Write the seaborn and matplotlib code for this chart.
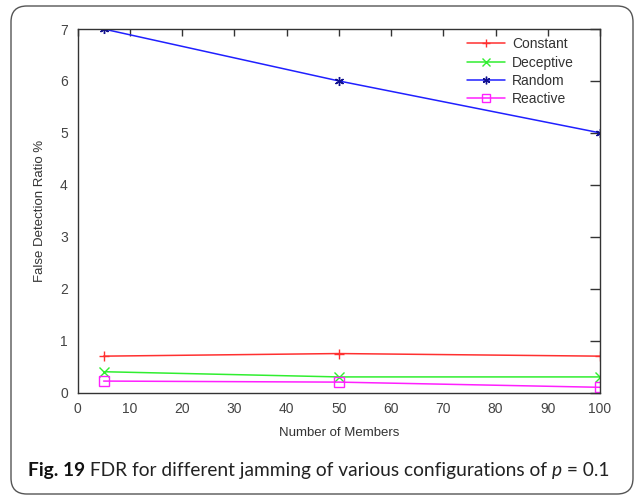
import numpy as np
import pandas as pd
import matplotlib
matplotlib.use("Agg")
import matplotlib.pyplot as plt
import seaborn as sns
from matplotlib.patches import FancyBboxPatch
from matplotlib.lines import Line2D

members = [5, 50, 100]
constant = [0.7, 0.75, 0.7]
deceptive = [0.4, 0.3, 0.3]
random_ = [7.0, 6.0, 5.0]
reactive = [0.22, 0.2, 0.1]
series_names = ["Constant", "Deceptive", "Random", "Reactive"]
x_ticks = [0, 10, 20, 30, 40, 50, 60, 70, 80, 90, 100]
y_ticks = [0, 1, 2, 3, 4, 5, 6, 7]

series_values = {"Constant": constant, "Deceptive": deceptive,
                 "Random": random_, "Reactive": reactive}

sns.set_style("white")
plt.rcParams["font.family"] = ["Liberation Sans", "DejaVu Sans"]

W, H = 635, 495
fig = plt.figure(figsize=(W / 100, H / 100), dpi=100)
fig.patch.set_facecolor("white")

# rounded frame
frame = FancyBboxPatch((11 / W, 1 - 494 / H), (633 - 11) / W, (494 - 6) / H,
                       boxstyle="round,pad=0,rounding_size=0.025",
                       transform=fig.transFigure, facecolor="none",
                       edgecolor="#555555", linewidth=1.0, mutation_aspect=W / H)
fig.add_artist(frame)

ax = fig.add_axes([77.5 / W, 1 - 392.5 / H, (600 - 77.5) / W, (392.5 - 29) / H])

palette = {"Constant": "#ff3030", "Deceptive": "#30ee30", "Random": "#2020ff", "Reactive": "#ff20ff"}
markers = {"Constant": "+", "Deceptive": "x", "Random": (6, 2, 0), "Reactive": "s"}
edgecols = {"Constant": "#ff3030", "Deceptive": "#30ee30", "Random": "#101090", "Reactive": "#ff20ff"}

handles = []
for name in series_names:
    d = pd.DataFrame({"Members": members, "Value": series_values[name]})
    sns.lineplot(data=d, x="Members", y="Value", color=palette[name], marker=markers[name],
                 ax=ax, linewidth=1.1, markersize=6.5, markeredgewidth=1.0,
                 markeredgecolor=edgecols[name],
                 markerfacecolor="none" if name == "Reactive" else palette[name])
    handles.append(Line2D([], [], color=palette[name], marker=markers[name], linewidth=1.1,
                          markersize=5.5, markeredgewidth=1.0, markeredgecolor=edgecols[name],
                          markerfacecolor="none" if name == "Reactive" else palette[name]))

ax.set_xlim(0, 100)
ax.set_ylim(0, 7)
ax.set_xticks(x_ticks)
ax.set_yticks(y_ticks)
ax.tick_params(axis="both", direction="in", top=True, right=True, colors="#333333",
               labelcolor="#444444", labelsize=10, width=1.0)
ax.tick_params(axis="x", length=5, pad=7)
ax.tick_params(axis="y", length=7, pad=7)
for s in ax.spines.values():
    s.set_color("#333333")
    s.set_linewidth(1.0)
ax.set_xlabel("Number of Members", fontsize=9.5, color="#333333", labelpad=8)
ax.set_ylabel("False Detection Ratio %", fontsize=9.5, color="#333333", labelpad=10)

leg = ax.legend(handles, series_names, loc="upper right", bbox_to_anchor=(0.9656, 1.0),
                frameon=False, fontsize=10, handlelength=2.7, handletextpad=0.5,
                labelspacing=0.3, borderaxespad=0.2, borderpad=0.4)
for t in leg.get_texts():
    t.set_color("#333333")

# caption
cap_font = ["Lato", "DejaVu Sans"]
fs = 14.0
parts = [("Fig. 19", "bold", "normal"),
         (" FDR for different jamming of various configurations of ", "normal", "normal"),
         ("p", "normal", "italic"),
         (" = 0.1", "normal", "normal")]

arts = []
for txt, wt, st in parts:
    t = fig.text(0, 0, txt, fontsize=fs, fontweight=wt, fontstyle=st, family=cap_font,
                 color="#111111" if wt == "bold" else "#222222", va="baseline", ha="left")
    arts.append(t)

renderer = fig.canvas.get_renderer()

def layout(arts):
    x = 28.0
    for t in arts:
        t.set_position((x / W, 1 - 476 / H))
        bb = t.get_window_extent(renderer)
        x = x + bb.width
    return x

end = layout(arts)
scale = (614 - 28) / (end - 28)
for t in arts:
    t.set_fontsize(fs * scale)
layout(arts)

fig.savefig("out.png", dpi=100)
